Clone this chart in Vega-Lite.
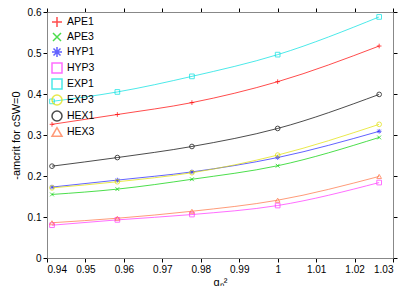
{
  "$schema": "https://vega.github.io/schema/vega-lite/v6.json",
  "width": 346,
  "height": 246,
  "autosize": {"type": "none"},
  "padding": {"left": 47, "top": 12, "right": 16, "bottom": 28},
  "background": "white",
  "config": {
    "font": "Liberation Sans",
    "view": {"stroke": "black", "strokeWidth": 1}
  },
  "data": {"values": [
    {"series": "APE1", "g": 0.9413, "m": 0.326}, {"series": "APE1", "g": 0.9583, "m": 0.350}, {"series": "APE1", "g": 0.9777, "m": 0.379}, {"series": "APE1", "g": 1.0, "m": 0.430}, {"series": "APE1", "g": 1.0264, "m": 0.517},
    {"series": "APE3", "g": 0.9413, "m": 0.155}, {"series": "APE3", "g": 0.9583, "m": 0.168}, {"series": "APE3", "g": 0.9777, "m": 0.192}, {"series": "APE3", "g": 1.0, "m": 0.225}, {"series": "APE3", "g": 1.0264, "m": 0.294},
    {"series": "HYP1", "g": 0.9413, "m": 0.173}, {"series": "HYP1", "g": 0.9583, "m": 0.190}, {"series": "HYP1", "g": 0.9777, "m": 0.210}, {"series": "HYP1", "g": 1.0, "m": 0.245}, {"series": "HYP1", "g": 1.0264, "m": 0.309},
    {"series": "HYP3", "g": 0.9413, "m": 0.080}, {"series": "HYP3", "g": 0.9583, "m": 0.093}, {"series": "HYP3", "g": 0.9777, "m": 0.106}, {"series": "HYP3", "g": 1.0, "m": 0.128}, {"series": "HYP3", "g": 1.0264, "m": 0.184},
    {"series": "EXP1", "g": 0.9413, "m": 0.382}, {"series": "EXP1", "g": 0.9583, "m": 0.405}, {"series": "EXP1", "g": 0.9777, "m": 0.443}, {"series": "EXP1", "g": 1.0, "m": 0.496}, {"series": "EXP1", "g": 1.0264, "m": 0.588},
    {"series": "EXP3", "g": 0.9413, "m": 0.171}, {"series": "EXP3", "g": 0.9583, "m": 0.186}, {"series": "EXP3", "g": 0.9777, "m": 0.208}, {"series": "EXP3", "g": 1.0, "m": 0.251}, {"series": "EXP3", "g": 1.0264, "m": 0.326},
    {"series": "HEX1", "g": 0.9413, "m": 0.224}, {"series": "HEX1", "g": 0.9583, "m": 0.245}, {"series": "HEX1", "g": 0.9777, "m": 0.272}, {"series": "HEX1", "g": 1.0, "m": 0.316}, {"series": "HEX1", "g": 1.0264, "m": 0.399},
    {"series": "HEX3", "g": 0.9413, "m": 0.086}, {"series": "HEX3", "g": 0.9583, "m": 0.097}, {"series": "HEX3", "g": 0.9777, "m": 0.114}, {"series": "HEX3", "g": 1.0, "m": 0.141}, {"series": "HEX3", "g": 1.0264, "m": 0.199}
  ]},
  "layer": [
    {
      "mark": {"type": "line", "interpolate": "monotone", "strokeWidth": 1, "opacity": 0.7},
      "encoding": {
        "x": {"field": "g", "type": "quantitative", "scale": {"domain": [0.94, 1.03], "nice": false, "zero": false}, "axis": {"orient": "top", "labels": false, "title": null, "gridOpacity": 0, "tickSize": 4, "tickColor": "black", "tickCount": 9}},
        "y": {"field": "m", "type": "quantitative", "scale": {"domain": [0, 0.6], "nice": false}, "axis": {"orient": "right", "labels": false, "title": null, "gridOpacity": 0, "tickSize": 4, "tickColor": "black", "tickCount": 6}},
        "color": {"field": "series", "type": "nominal", "scale": {"domain": ["APE1", "APE3", "HYP1", "HYP3", "EXP1", "EXP3", "HEX1", "HEX3"], "range": ["#ff0000", "#00d000", "#2020ff", "#ff30ff", "#00e0e0", "#e0e000", "#000000", "#ff7040"]}}
      }
    },
    {
      "mark": {"type": "point", "size": 22, "strokeWidth": 1, "filled": false},
      "encoding": {
        "x": {"field": "g", "type": "quantitative", "axis": {"orient": "bottom", "title": "gₙ²", "gridOpacity": 0, "tickSize": 4, "tickColor": "black", "tickCount": 9, "format": ".2~f", "labelPadding": 2, "titlePadding": 2, "labelFontSize": 10, "titleFontSize": 11, "titleFontWeight": "normal"}},
        "y": {"field": "m", "type": "quantitative", "axis": {"orient": "left", "title": "-amcrit for cSW=0", "gridOpacity": 0, "tickSize": 4, "tickColor": "black", "tickCount": 6, "format": ".1~f", "labelPadding": 2, "titlePadding": 6, "labelFontSize": 10, "titleFontSize": 11, "titleFontWeight": "normal"}},
        "color": {"field": "series", "type": "nominal", "legend": {"orient": "top-left", "title": null, "labelFontSize": 10.5, "rowPadding": 0, "offset": 4, "padding": 0}},
        "shape": {"field": "series", "type": "nominal", "legend": {"orient": "top-left", "title": null, "labelFontSize": 10.5, "rowPadding": 0, "offset": 4, "padding": 0}, "scale": {"domain": ["APE1", "APE3", "HYP1", "HYP3", "EXP1", "EXP3", "HEX1", "HEX3"], "range": ["M-1,0H1M0,-1V1", "M-0.8,-0.8L0.8,0.8M-0.8,0.8L0.8,-0.8", "M-1,0H1M0,-1V1M-0.7,-0.7L0.7,0.7M-0.7,0.7L0.7,-0.7", "square", "square", "circle", "circle", "triangle-up"]}}
      }
    }
  ],
  "resolve": {"axis": {"x": "independent", "y": "independent"}}
}
